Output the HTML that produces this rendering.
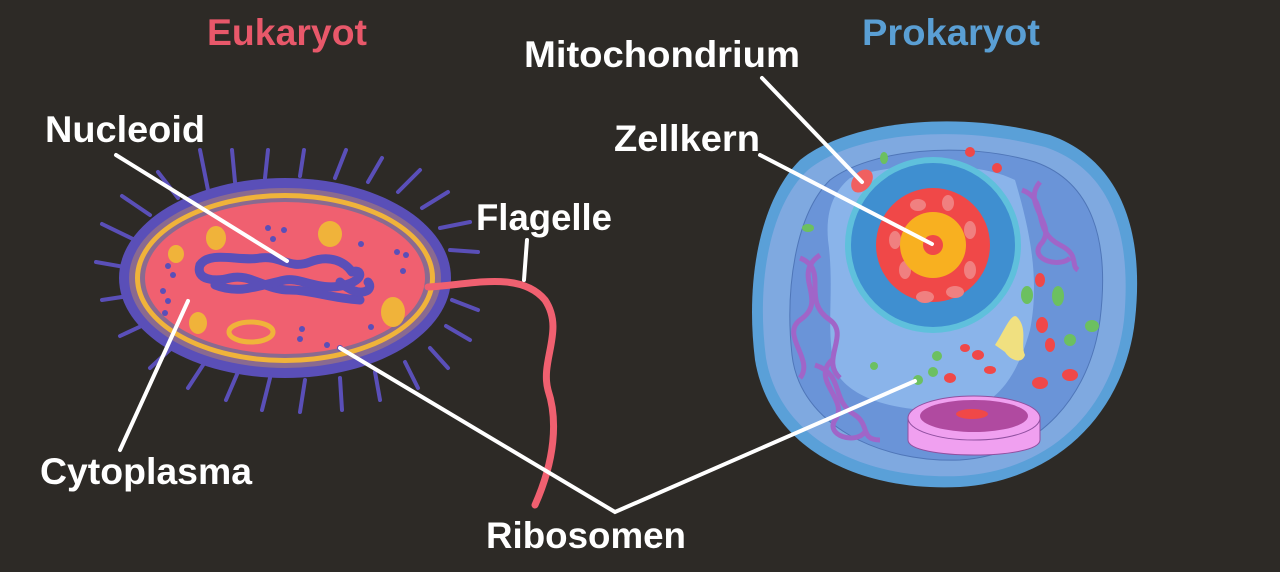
<!DOCTYPE html>
<html><head><meta charset="utf-8"><style>
html,body{margin:0;padding:0;background:#2d2a26;}
svg{display:block}
text{font-family:"Liberation Sans",sans-serif;font-weight:bold;}
</style></head><body>
<svg width="1280" height="572" viewBox="0 0 1280 572" xmlns="http://www.w3.org/2000/svg">
<rect width="1280" height="572" fill="#2d2a26"/>
<!-- left cell spikes -->
<g stroke="#5a4fb8" stroke-width="4" stroke-linecap="round">
<path d="M208 190 L200 150 M235 182 L232 150 M265 178 L268 150 M300 176 L304 150 M335 178 L346 150 M368 182 L382 158 M398 192 L420 170 M422 208 L448 192 M440 228 L470 222 M450 250 L478 252 M452 300 L478 310 M446 326 L470 340 M430 348 L448 368 M405 362 L418 388 M375 372 L380 400 M340 378 L342 410 M305 380 L300 412 M270 378 L262 410 M238 372 L226 400 M205 362 L188 388 M175 345 L150 368 M150 322 L120 336 M135 295 L102 300 M130 268 L96 262 M135 240 L102 224 M150 215 L122 196 M178 198 L158 172"/>
</g>
<ellipse cx="285" cy="278" rx="166" ry="100" fill="#5a4fb8"/>
<ellipse cx="285" cy="278" rx="156" ry="90" fill="#8a6a90"/>
<ellipse cx="285" cy="278" rx="150" ry="85" fill="#f0b33a"/>
<ellipse cx="285" cy="278" rx="145" ry="80" fill="#8a6a90"/>
<ellipse cx="285" cy="278" rx="140" ry="76" fill="#f06070"/>
<g fill="#f0b33a"><ellipse cx="216" cy="238" rx="10" ry="12"/><ellipse cx="330" cy="234" rx="12" ry="13"/><ellipse cx="176" cy="254" rx="8" ry="9"/><ellipse cx="198" cy="323" rx="9" ry="11"/><ellipse cx="393" cy="312" rx="12" ry="15"/></g>
<ellipse cx="251" cy="332" rx="22" ry="10" fill="none" stroke="#f0b33a" stroke-width="5"/>
<g fill="#5a4fb8"><circle cx="268" cy="228" r="3"/><circle cx="284" cy="230" r="3"/><circle cx="273" cy="239" r="3"/><circle cx="168" cy="266" r="3"/><circle cx="173" cy="275" r="3"/><circle cx="163" cy="291" r="3"/><circle cx="168" cy="301" r="3"/><circle cx="165" cy="313" r="3"/><circle cx="361" cy="244" r="3"/><circle cx="397" cy="252" r="3"/><circle cx="406" cy="255" r="3"/><circle cx="403" cy="271" r="3"/><circle cx="302" cy="329" r="3"/><circle cx="300" cy="339" r="3"/><circle cx="327" cy="345" r="3"/><circle cx="340" cy="348" r="3"/><circle cx="371" cy="327" r="3"/></g>
<g fill="none" stroke="#5a4fb8" stroke-width="9" stroke-linecap="round">
<path d="M200 265 C210 250 240 262 260 258 C280 255 290 270 310 262 C330 254 345 262 352 272"/>
<path d="M200 265 C195 280 215 282 230 278 C250 273 265 290 290 290 C310 290 330 298 360 300"/>
<path d="M215 285 C240 295 260 285 285 280 C300 277 320 292 345 285 C365 280 362 268 352 272"/>
<path d="M340 282 C360 300 375 290 368 282"/>
</g>
<path d="M428 287 C470 285 520 270 545 300 C565 330 540 360 548 390 C558 420 555 460 535 505" fill="none" stroke="#f06070" stroke-width="7" stroke-linecap="round"/>

<!-- right cell -->
<path d="M800 160 C850 120 960 110 1050 135 C1120 160 1145 230 1135 320 C1125 410 1060 480 960 487 C860 492 770 450 755 360 C745 280 760 200 800 160 Z" fill="#5aa0d8"/>
<path d="M808 170 C855 132 958 124 1045 147 C1112 170 1132 235 1124 320 C1114 405 1055 470 960 476 C865 480 780 440 766 358 C756 282 770 205 808 170 Z" fill="#7fa9e0"/>
<path d="M830 180 C870 150 960 140 1035 162 C1092 182 1110 240 1100 320 C1090 395 1040 455 960 460 C880 463 800 425 792 355 C785 290 795 215 830 180 Z" fill="#6a94d8" stroke="#4f76b8" stroke-width="1"/>
<path d="M850 178 C900 160 980 162 1015 180 C1030 230 1040 280 1030 330 C1015 385 990 410 955 410 C900 413 850 400 835 370 C825 330 835 290 828 240 C825 205 838 188 850 178 Z" fill="#8ab4ea"/>
<circle cx="933" cy="245" r="88" fill="#5fc0dc"/>
<circle cx="933" cy="245" r="82" fill="#3f8fd0"/>
<circle cx="933" cy="245" r="57" fill="#f04848"/>
<g fill="#f08080"><ellipse cx="895" cy="240" rx="6" ry="9"/><ellipse cx="905" cy="270" rx="6" ry="9"/><ellipse cx="925" cy="297" rx="9" ry="6"/><ellipse cx="955" cy="292" rx="9" ry="6"/><ellipse cx="970" cy="270" rx="6" ry="9"/><ellipse cx="970" cy="230" rx="6" ry="9"/><ellipse cx="948" cy="203" rx="6" ry="8"/><ellipse cx="918" cy="205" rx="8" ry="6"/></g>
<circle cx="933" cy="245" r="33" fill="#f8b020"/>
<circle cx="933" cy="245" r="10" fill="#f04848"/>
<ellipse cx="862" cy="181" rx="9" ry="13" transform="rotate(40 862 181)" fill="#f06060"/>
<g fill="#6cc060"><ellipse cx="884" cy="158" rx="4" ry="6"/><ellipse cx="808" cy="228" rx="6" ry="4"/><ellipse cx="1027" cy="295" rx="6" ry="9"/><ellipse cx="1058" cy="296" rx="6" ry="10"/><ellipse cx="1092" cy="326" rx="7" ry="6"/><ellipse cx="1070" cy="340" rx="6" ry="6"/><circle cx="937" cy="356" r="5"/><circle cx="933" cy="372" r="5"/><circle cx="918" cy="380" r="5"/><circle cx="874" cy="366" r="4"/></g>
<g fill="#f04848"><ellipse cx="1040" cy="280" rx="5" ry="7"/><ellipse cx="1042" cy="325" rx="6" ry="8"/><ellipse cx="1050" cy="345" rx="5" ry="7"/><ellipse cx="965" cy="348" rx="5" ry="4"/><ellipse cx="978" cy="355" rx="6" ry="5"/><ellipse cx="990" cy="370" rx="6" ry="4"/><ellipse cx="1040" cy="383" rx="8" ry="6"/><ellipse cx="1070" cy="375" rx="8" ry="6"/><ellipse cx="950" cy="378" rx="6" ry="5"/><ellipse cx="970" cy="152" rx="5" ry="5"/><ellipse cx="997" cy="168" rx="5" ry="5"/></g>
<path d="M995 345 C1005 330 1012 310 1018 318 C1028 330 1020 345 1025 355 C1022 365 1010 360 1005 352 Z" fill="#f0e080"/>
<g fill="none" stroke="#a065c8" stroke-width="5">
<path d="M800 258 C830 270 800 300 830 320 C850 335 820 360 840 378"/>
<path d="M820 255 C790 275 830 300 800 320 C780 335 815 360 800 378"/>
<path d="M1022 190 C1050 200 1030 230 1060 245 C1080 255 1070 265 1078 270"/>
<path d="M1040 182 C1020 205 1060 225 1040 245 C1030 260 1060 268 1070 258"/>
<path d="M815 365 C845 375 830 400 855 415 C870 425 860 440 880 440"/>
<path d="M832 360 C810 380 850 400 835 420 C825 435 855 445 865 432"/>
</g>
<path d="M908 418 L908 440 C908 460 1040 460 1040 440 L1040 418 Z" fill="#f0a0f0" stroke="#9050a0" stroke-width="1"/>
<ellipse cx="974" cy="418" rx="66" ry="22" fill="#f0a0f0" stroke="#9050a0" stroke-width="1"/>
<ellipse cx="974" cy="416" rx="54" ry="16" fill="#b04aa0"/>
<ellipse cx="972" cy="414" rx="16" ry="5" fill="#f04848"/>

<g stroke="#ffffff" stroke-width="4" fill="none" stroke-linecap="round">
<line x1="116" y1="155" x2="287" y2="261"/>
<line x1="120" y1="450" x2="188" y2="301"/>
<polyline points="340,348 615,512 915,381"/>
<line x1="527" y1="240" x2="524" y2="280"/>
<line x1="762" y1="78" x2="862" y2="182"/>
<line x1="760" y1="155" x2="932" y2="244"/>
</g>
<g font-size="37" lengthAdjust="spacingAndGlyphs">
<text x="207" y="45" fill="#e8586a" textLength="160" lengthAdjust="spacingAndGlyphs">Eukaryot</text>
<text x="862" y="45" fill="#5a9fd4" textLength="178" lengthAdjust="spacingAndGlyphs">Prokaryot</text>
<g fill="#ffffff">
<text x="524" y="67" textLength="276" lengthAdjust="spacingAndGlyphs">Mitochondrium</text>
<text x="614" y="151" textLength="146" lengthAdjust="spacingAndGlyphs">Zellkern</text>
<text x="45" y="142" textLength="160" lengthAdjust="spacingAndGlyphs">Nucleoid</text>
<text x="476" y="230" textLength="136" lengthAdjust="spacingAndGlyphs">Flagelle</text>
<text x="40" y="484" textLength="212" lengthAdjust="spacingAndGlyphs">Cytoplasma</text>
<text x="486" y="548" textLength="200" lengthAdjust="spacingAndGlyphs">Ribosomen</text>
</g>
</g>
</svg>
</body></html>
